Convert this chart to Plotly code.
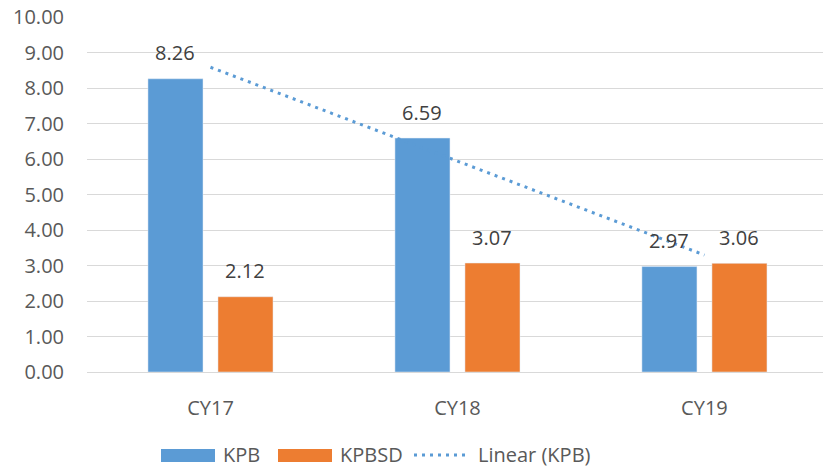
import plotly.graph_objects as go
import numpy as np

categories = ["CY17", "CY18", "CY19"]
kpb = [8.26, 6.59, 2.97]
kpbsd = [2.12, 3.07, 3.06]
y_ticks = [0, 1, 2, 3, 4, 5, 6, 7, 8, 9, 10]
legend_labels = ["KPB", "KPBSD", "Linear (KPB)"]

BLUE = "#5B9BD5"
ORANGE = "#ED7D31"
FONT = "Open Sans"
W, H = 823, 471
L, R, T, B = 87, 0, 17, 99
PW, PH = W - L - R, H - T - B

# linear trendline of KPB (least squares)
xi = np.arange(1, len(kpb) + 1)
slope, intercept = np.polyfit(xi, kpb, 1)
trend = list(slope * xi + intercept)

fig = go.Figure()
fig.add_trace(go.Bar(x=categories, y=kpb, name="KPB", marker_color=BLUE, showlegend=False))
fig.add_trace(go.Bar(x=categories, y=kpbsd, name="KPBSD", marker_color=ORANGE, showlegend=False))
fig.add_trace(go.Scatter(x=categories, y=trend, mode="lines", name="Linear (KPB)",
                         line=dict(color=BLUE, width=3, dash="3px,5px"), showlegend=False))

annotations = []
for i, c in enumerate(categories):
    for val, xs in ((kpb[i], -35), (kpbsd[i], 35)):
        annotations.append(dict(x=c, y=val, xref="x", yref="y", text=f"{val:.2f}",
                                showarrow=False, xshift=xs, yshift=26, yanchor="middle",
                                font=dict(family=FONT, size=20, color="#404040")))

def px(x):
    return (x - L) / PW

def py(y):
    return (H - B - y) / PH

shapes = [
    dict(type="rect", xref="paper", yref="paper", x0=px(161), x1=px(215), y0=py(462), y1=py(449),
         fillcolor=BLUE, line=dict(width=0)),
    dict(type="rect", xref="paper", yref="paper", x0=px(278), x1=px(332), y0=py(462), y1=py(449),
         fillcolor=ORANGE, line=dict(width=0)),
    dict(type="line", xref="paper", yref="paper", x0=px(414), x1=px(470), y0=py(455), y1=py(455),
         line=dict(color=BLUE, width=3, dash="3px,5px")),
]
for lbl, x in zip(legend_labels, (221, 338, 476)):
    annotations.append(dict(x=px(x), y=py(455), xref="paper", yref="paper", text=lbl,
                            showarrow=False, xanchor="left", yanchor="middle",
                            font=dict(family=FONT, size=20, color="#595959")))

fig.update_layout(
    width=W, height=H,
    margin=dict(l=L, r=R, t=T, b=B),
    plot_bgcolor="white", paper_bgcolor="white",
    barmode="group", bargap=0.433, bargroupgap=0.214,
    annotations=annotations, shapes=shapes,
    font=dict(family=FONT, size=20, color="#595959"),
    xaxis=dict(range=[-0.5, 2.48], showgrid=False, showline=True, linecolor="#D9D9D9",
               linewidth=1, ticks="", ticklabelstandoff=18,
               tickfont=dict(family=FONT, size=20, color="#595959")),
    yaxis=dict(range=[0, 10], tickvals=y_ticks, tickformat=".2f", showgrid=True,
               gridcolor="#D9D9D9", gridwidth=1, zeroline=False, showline=False,
               ticklabelstandoff=22,
               tickfont=dict(family=FONT, size=20, color="#595959")),
)

fig.write_html("out.html", config={"displayModeBar": False},
               post_script="document.body.style.margin='0';document.body.style.overflow='hidden';")
